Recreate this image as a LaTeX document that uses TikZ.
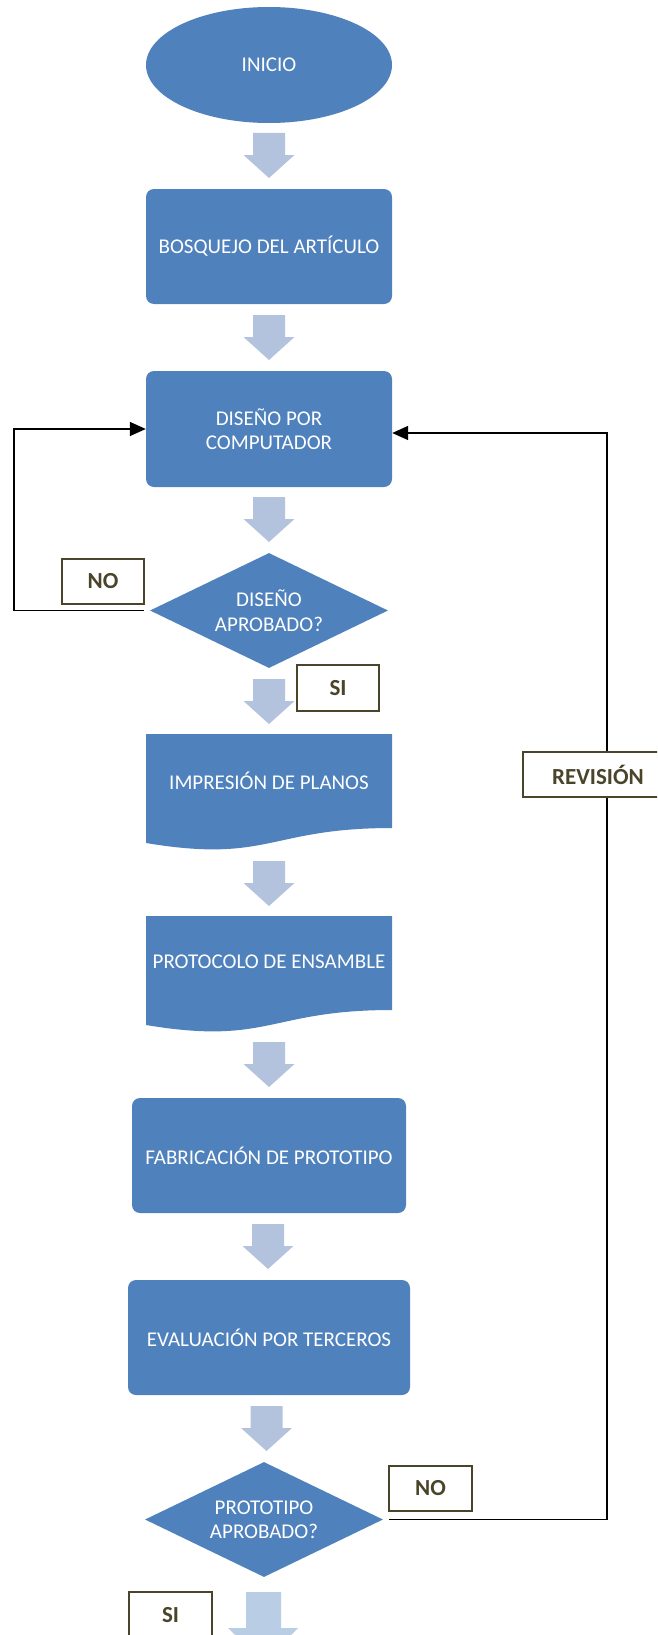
\documentclass[tikz,border=0pt]{standalone}
\usepackage{fontspec}
\setmainfont{Carlito}
\usetikzlibrary{shapes.geometric,arrows.meta}
\definecolor{azul}{RGB}{79,129,189}
\definecolor{flechac}{RGB}{179,195,222}
\definecolor{flechad}{RGB}{185,205,229}
\definecolor{oliva}{RGB}{74,69,42}
\tikzset{
  letra/.style={font=\fontsize{21}{24.5}\selectfont},
  caja/.style={rectangle, rounded corners=8pt, fill=azul, text=white, align=center, inner sep=2pt, letra},
  inicio/.style={ellipse, fill=azul, text=white, inner sep=2pt, letra},
  decision/.style={diamond, aspect=2.07, fill=azul, text=white, align=center, inner sep=0pt,
    minimum width=238pt, minimum height=115pt, letra},
  texto/.style={text=white, align=center, inner sep=2pt, letra},
  etiqueta/.style={rectangle, draw=oliva, line width=1.8pt, fill=white, text=oliva, inner sep=0pt,
    minimum height=45pt, font=\bfseries\fontsize{23}{26}\selectfont},
  flecha/.style={fill=flechac},
  retorno/.style={draw=black, line width=1.5pt, -{Triangle[length=16pt,width=14pt]}},
}
\begin{document}
\begin{tikzpicture}[x=1pt, y=-1pt]
    \useasboundingbox (0,0) rectangle (657,1635);
    \clip (0,0) rectangle (657,1635);
    % bloques del proceso
    \node[inicio, minimum width=246pt, minimum height=116pt] (ini) at (269,65) {INICIO};
    \node[caja, minimum width=246pt, minimum height=115pt] (bos) at (269,246.5) {BOSQUEJO DEL ART\'ICULO};
    \node[caja, minimum width=246pt, minimum height=116pt] (dis) at (269,429) {DISE\~NO POR\\COMPUTADOR};
    \node[decision] (apr1) at (269,610.5) {DISE\~NO\\APROBADO?};
    % documentos
    \fill[azul] (146,734) -- (392,734) -- (392,828) .. controls (269,828) and (269,863.5) .. (146,843) -- cycle;
    \node[texto] (imp) at (269,781) {IMPRESI\'ON DE PLANOS};
    \fill[azul] (146,916) -- (392,916) -- (392,1010) .. controls (269,1010) and (269,1045.5) .. (146,1025) -- cycle;
    \node[texto] (pro) at (269,962) {PROTOCOLO DE ENSAMBLE};
    \node[caja, minimum width=274pt, minimum height=115pt] (fab) at (269,1155.5) {FABRICACI\'ON DE PROTOTIPO};
    \node[caja, minimum width=282pt, minimum height=115pt] (eva) at (269,1337.5) {EVALUACI\'ON POR TERCEROS};
    \node[decision] (apr2) at (264,1519.5) {PROTOTIPO\\APROBADO?};
    % flechas de bloque
    \foreach \x/\y in {269/133, 269/315, 269/497, 269/679, 269/861, 269/1042, 268/1224, 266.5/1406} {
        \fill[flecha] (\x-16,\y) -- (\x+16,\y) -- (\x+16,\y+22) -- (\x+25.5,\y+22) -- (\x,\y+45)
            -- (\x-25.5,\y+22) -- (\x-16,\y+22) -- cycle;
    }
    \fill[flechad] (246,1592) -- (281,1592) -- (281,1628) -- (298,1628) -- (263.5,1663) -- (228,1628) -- (246,1628) -- cycle;
    % retornos
    \coordinate (izq) at (14,610.5);
    \coordinate (der) at (607,1519.5);
    \draw[retorno, shorten <=6pt] (apr1.west) -- (izq) |- (dis.west);
    \draw[retorno, shorten <=6pt] (apr2.east) -- (der) |- ([yshift=-4pt]dis.east);
    % etiquetas
    \node[etiqueta, minimum width=82pt] (no1) at (103,581.5) {NO};
    \node[etiqueta, minimum width=82pt, minimum height=46pt] (si1) at (338,688) {SI};
    \node[etiqueta, minimum width=150pt] (rev) at (598,774.5) {REVISI\'ON};
    \node[etiqueta, minimum width=83pt] (no2) at (430.5,1488.5) {NO};
    \node[etiqueta, minimum width=83pt, minimum height=46pt] (si2) at (170.5,1615) {SI};
\end{tikzpicture}
\end{document}
